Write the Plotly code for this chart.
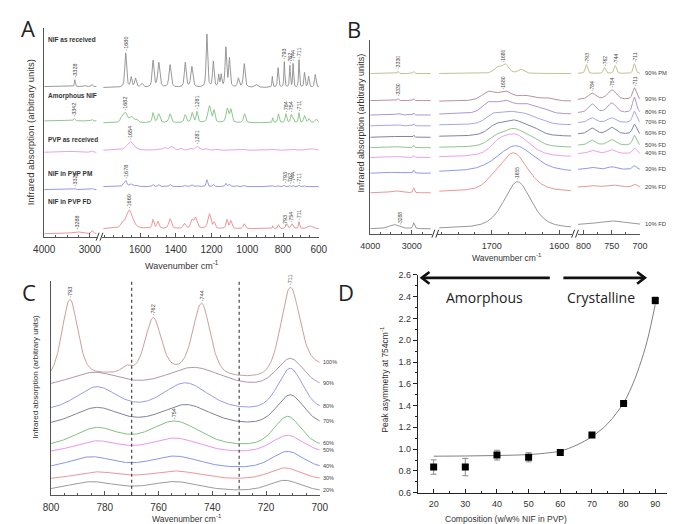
import numpy as np
import plotly.graph_objects as go

# ---------------- Panel A: FTIR spectra (peak centre, height, half-width) -------------
A_NAMES = ["NIF as received", "Amorphous NIF", "PVP as received", "NIF in PVP PM", "NIF in PVP FD"]
A_COLORS = ["#8c8c8c", "#7fbf7f", "#e597e5", "#8a8ae6", "#e88a8a"]
A_BASE_SEG1 = [153, 118, 86, 48, 3]
A_BASE_SEG2 = [152, 116, 88, 51, 8]
A_PEAKS_SEG1 = [
    [(3328, 7, 12), (3100, 1, 20), (2950, 2, 15)],
    [(3342, 2.5, 20), (2950, 1.5, 15)],
    [(3420, 1, 150), (2950, 1.5, 20)],
    [(3328, 1, 15), (2950, 1.5, 15)],
    [(3288, 2, 120), (2950, 3, 25)],
]
A_PEAKS_SEG2 = [
    [(1680, 35, 6), (1649, 10, 5), (1625, 9, 6), (1590, 4, 8), (1527, 27, 6), (1495, 25, 7), (1432, 23, 7),
     (1347, 25, 6), (1310, 21, 7), (1226, 54, 5), (1190, 26, 5), (1160, 12, 4), (1146, 12, 4), (1120, 40, 5),
     (1100, 29, 5), (1050, 9, 6), (1017, 24, 6), (950, 3, 10), (860, 11, 3), (828, 20, 4), (793, 26, 3),
     (762, 22, 3), (744, 24, 3), (711, 28, 3), (680, 15, 4), (657, 11, 4), (620, 13, 5)],
    [(1700, 6, 10), (1682, 9, 10), (1650, 6, 14), (1620, 3, 10), (1527, 10, 6), (1495, 9, 8), (1432, 9, 8),
     (1347, 8, 7), (1308, 10, 7), (1281, 11, 6), (1212, 17, 10), (1186, 12, 6), (1112, 14, 8), (1092, 13, 7),
     (1015, 9, 7), (858, 5, 3), (826, 9, 5), (784, 9, 5), (754, 8, 5), (744, 4, 4), (711, 10, 4), (680, 7, 6),
     (655, 4, 6), (615, 4, 8)],
    [(1654, 9, 22), (1495, 1.5, 10), (1462, 3, 10), (1424, 4, 12), (1373, 2, 8), (1318, 2, 8), (1281, 4, 12),
     (1230, 1.5, 10), (1170, 1, 10), (1018, 1, 10), (930, 0.8, 10), (845, 1, 10), (735, 0.8, 10), (650, 2, 25)],
    [(1690, 3, 8), (1678, 5, 6), (1650, 2.5, 10), (1620, 1.5, 8), (1527, 2, 5), (1495, 2, 6), (1432, 2.3, 7),
     (1347, 1.2, 5), (1310, 1.8, 6), (1281, 1.2, 8), (1226, 7, 5), (1190, 2.3, 5), (1120, 3.3, 5), (1100, 2.7, 5),
     (1060, 1, 6), (1017, 1.3, 5), (860, 0.8, 3), (828, 1, 4), (793, 1.5, 3), (762, 1, 3), (744, 1.3, 3),
     (711, 1.5, 3), (680, 0.8, 4), (640, 0.5, 5)],
    [(1660, 19, 22), (1700, 4, 10), (1527, 9, 6), (1500, 7, 7), (1432, 10, 9), (1352, 5, 8), (1310, 8, 8),
     (1290, 11, 10), (1212, 15, 10), (1185, 6, 6), (1114, 9, 6), (1092, 8, 7), (1017, 5, 7), (858, 3, 3),
     (826, 4, 5), (780, 5, 6), (750, 5, 7), (711, 7, 4), (650, 3, 15)],
]
A_LABELS = [
    [(1, 3328, "-3328"), (2, 1680, "-1680"), (2, 793, "-793"), (2, 762, "-762"), (2, 744, "-744"), (2, 711, "-711")],
    [(1, 3342, "-3342"), (2, 1682, "-1682"), (2, 1281, "-1281"), (2, 784, "-784"), (2, 754, "-754"), (2, 711, "-711")],
    [(2, 1654, "-1654"), (2, 1281, "-1281")],
    [(1, 3328, "-3328"), (2, 1678, "-1678"), (2, 793, "-793"), (2, 762, "-762"), (2, 744, "-744"), (2, 711, "-711")],
    [(1, 3288, "-3288"), (2, 1660, "-1660"), (2, 793, "-793"), (2, 754, "-754"), (2, 711, "-711")],
]
A_XTICKS_SEG1 = [4000, 3000]
A_XTICKS_SEG2 = [1600, 1400, 1200, 1000, 800, 600]

# ---------------- Panel B ----------------
B_NAMES = ["90% PM", "90% FD", "80% FD", "70% FD", "60% FD", "50% FD", "40% FD", "30% FD", "20% FD", "10% FD"]
B_COLORS = ["#baba85", "#b3838f", "#a58ac8", "#9c9ce6", "#75759e", "#85bd85", "#e597e5", "#7d8fe6", "#e88a8a", "#8c8c8c"]
B_BASE_SEG1 = [163.3, 135.7, 121, 110, 98.3, 87.7, 77.7, 61.7, 41.7, 5]
B_BASE_SEG2 = [163.3, 135, 121.7, 110.7, 99, 87.7, 78, 62.7, 42.3, 5]
B_BASE_SEG3 = [163.3, 136.5, 123, 113, 101.5, 90, 81.5, 65.5, 47.5, 9]
B_PEAKS_SEG1 = [
    [(3330, 2.3, 15), (2950, 2, 20)],
    [(3330, 2, 20), (2950, 2, 15)],
    [(3330, 1.5, 60), (2950, 2, 15)],
    [(3330, 1, 60), (2950, 2, 15)],
    [(3400, 0.8, 150), (2950, 2, 15)],
    [(3400, 1, 150), (2950, 2.5, 15)],
    [(3400, 1, 150), (2950, 2, 15)],
    [(3400, 1, 150), (2950, 3.3, 18)],
    [(3400, 2, 150), (2950, 5, 20)],
    [(3420, 4.3, 150), (2950, 6, 25)],
]
B_PEAKS_SEG2 = [
    [(1692, 6, 6), (1680, 9, 6), (1657, 4, 5)],
    [(1705, 9, 12), (1680, 9, 12), (1650, 5, 14), (1620, 3, 12)],
    [(1705, 10, 12), (1680, 12, 15), (1650, 9, 15), (1625, 4, 12)],
    [(1700, 8, 12), (1675, 12, 18), (1648, 8, 15), (1625, 3, 10)],
    [(1695, 8, 14), (1668, 15, 20), (1640, 6, 15)],
    [(1695, 6, 14), (1668, 18, 22), (1640, 5, 15)],
    [(1690, 8, 15), (1665, 22, 25)],
    [(1665, 27, 32)],
    [(1700, 4, 12), (1668, 40, 25)],
    [(1662, 48, 24)],
]
B_PEAKS_SEG3 = [
    [(795, 9, 2.5), (763, 6, 2.5), (744, 8, 2.5), (710, 10, 2.5)],
    [(785, 6.5, 8), (750, 10, 9), (710, 12, 4)],
    [(785, 9, 8), (750, 10, 9), (710, 16, 4)],
    [(785, 5, 8), (750, 5, 9), (710, 11.7, 4)],
    [(785, 6, 8), (750, 6.7, 9), (710, 10, 4)],
    [(785, 5, 8), (750, 5.7, 9), (710, 10, 4)],
    [(785, 3.3, 8), (750, 4, 9), (710, 6, 4)],
    [(785, 2, 8), (750, 2.7, 9), (710, 3.7, 4)],
    [(785, 1.5, 8), (750, 2.3, 12), (710, 3, 4)],
    [(750, 4, 30)],
]
B_LABELS = [
    [(1, 3330, "-3330"), (2, 1683, "-1680"), (3, 795, "-793"), (3, 763, "-762"), (3, 744, "-744"), (3, 710, "-711")],
    [(1, 3330, "-3330"), (2, 1684, "-1680"), (3, 785, "-784"), (3, 750, "-754"), (3, 710, "-711")],
    [], [], [], [], [], [], [],
    [(1, 3288, "-3288"), (2, 1662, "-1655")],
]

# ---------------- Panel C ----------------
C_NAMES = ["100%", "90%", "80%", "70%", "60%", "50%", "40%", "30%", "20%"]
C_COLORS = ["#c49494", "#a88aa0", "#8f8fe6", "#737390", "#75b875", "#e68ae6", "#7a8ae6", "#e88a8a", "#8f8f8f"]
C_BASE = [113, 109, 85, 70, 48, 42, 26, 15, 3]
C_PEAKS = [
    [(793, 80, 3.5), (772, 6, 2), (762, 55, 3.5), (744, 72, 3.8), (711, 88, 4.2), (700, 16, 12), (755, 10, 20), (785, 5, 15)],
    [(784, 15, 11), (747, 20, 12), (711, 29, 6)],
    [(783, 24, 9), (750, 28, 10), (711, 43, 5.5)],
    [(783, 18, 10), (750, 21, 11), (711, 31, 6)],
    [(783, 19, 10), (754, 26, 11), (712, 31, 6)],
    [(783, 12, 10), (754, 15, 11), (712, 18, 7)],
    [(785, 12, 10), (754, 12.7, 11), (712, 17.7, 7)],
    [(783, 7.7, 10), (754, 8.7, 11), (713, 12, 7)],
    [(785, 9.7, 11), (754, 9.7, 11), (713, 11.3, 7)],
]
C_LABELS = [
    [(793, "-793"), (762, "-762"), (744, "-744"), (711, "-711")],
    [], [], [], [(754, "-754")], [], [], [], [],
]
C_DASHED = [770, 730]
C_XTICKS = [800, 780, 760, 740, 720, 700]

# ---------------- Panel D ----------------
D_X = [20, 30, 40, 50, 60, 70, 80, 90]
D_Y = [0.835, 0.835, 0.945, 0.925, 0.970, 1.130, 1.420, 2.365]
D_ERR = [0.066, 0.080, 0.045, 0.042, 0.012, 0.010, 0.010, 0.032]
FIT_X = [20, 30, 40, 50, 55, 60, 65, 70, 75, 80, 82.5, 85, 87.5, 90]
FIT_Y = [0.935, 0.937, 0.941, 0.950, 0.962, 0.982, 1.035, 1.115, 1.235, 1.425, 1.57, 1.76, 2.00, 2.33]

W, H = 675, 524
def px(x):
    return x / W
def py(y):
    return 1 - y / H

def profile(x, peaks, eta):
    x = np.asarray(x, float)
    y = np.zeros_like(x)
    for c, h, w in peaks:
        u = ((x - c) / w) ** 2
        y += h * (eta / (1 + u) + (1 - eta) * np.exp(-np.log(2) * u))
    return y

FONT = "Liberation Sans, Arial, sans-serif"
AX = "#555555"
fig = go.Figure()
ann = []
shapes = []

def add_line(x, y, xa, ya, color, width=0.9):
    fig.add_trace(go.Scatter(x=x, y=y, xaxis=xa, yaxis=ya, mode="lines",
                             line=dict(color=color, width=width), showlegend=False, hoverinfo="skip"))

def peak_label(x, y, xa, ya, text, size=5.5):
    ann.append(dict(x=x, y=y, xref=xa, yref=ya, text=text, textangle=-90, showarrow=False,
                    xanchor="center", yanchor="bottom", font=dict(size=size, color="#444", family=FONT),
                    borderpad=0))

# ---- A ----
A1 = np.arange(4000, 2849, -2.0)
A2 = np.arange(1805, 599, -1.0)
EA = 0.6
for i in range(len(A_NAMES)):
    add_line(A1, A_BASE_SEG1[i] + profile(A1, A_PEAKS_SEG1[i], EA), "x", "y", A_COLORS[i])
    add_line(A2, A_BASE_SEG2[i] + profile(A2, A_PEAKS_SEG2[i], EA), "x2", "y", A_COLORS[i])
    for seg, wn, t in A_LABELS[i]:
        if seg == 1:
            yv = A_BASE_SEG1[i] + profile([wn], A_PEAKS_SEG1[i], EA)[0]
            peak_label(wn, yv + 1, "x", "y", t)
        else:
            yv = A_BASE_SEG2[i] + profile([wn], A_PEAKS_SEG2[i], EA)[0]
            peak_label(wn, yv + 1, "x2", "y", t)
A_LABEL_Y = [27, 85, 129, 164, 192]
for name, yy in zip(A_NAMES, A_LABEL_Y):
    ann.append(dict(x=px(28), y=py(yy), xref="paper", yref="paper", text="<b>%s</b>" % name, showarrow=False,
                    xanchor="left", yanchor="middle", font=dict(size=6.5, color="#333", family=FONT)))

# ---- B ----
B1 = np.arange(4000, 2539, -2.0)
B2 = np.arange(1778, 1582, -0.5)
B3 = np.arange(810, 699.9, -0.5)
EB = 0.5
for i in range(len(B_NAMES)):
    add_line(B1, B_BASE_SEG1[i] + profile(B1, B_PEAKS_SEG1[i], EB), "x3", "y2", B_COLORS[i])
    add_line(B2, B_BASE_SEG2[i] + profile(B2, B_PEAKS_SEG2[i], EB), "x4", "y2", B_COLORS[i])
    y3 = B_BASE_SEG3[i] + profile(B3, B_PEAKS_SEG3[i], EB)
    add_line(B3, y3, "x5", "y2", B_COLORS[i])
    ann.append(dict(x=700, y=y3[-1], xref="x5", yref="y2", text=B_NAMES[i], showarrow=False, xanchor="left",
                    yanchor="middle", xshift=3, font=dict(size=5.8, color="#444", family=FONT)))
    segs = {1: ("x3", B_BASE_SEG1, B_PEAKS_SEG1), 2: ("x4", B_BASE_SEG2, B_PEAKS_SEG2), 3: ("x5", B_BASE_SEG3, B_PEAKS_SEG3)}
    for seg, wn, t in B_LABELS[i]:
        xa, base, pk = segs[seg]
        yv = base[i] + profile([wn], pk[i], EB)[0]
        peak_label(wn, yv + 1, xa, "y2", t, size=5)

# ---- C ----
C1 = np.arange(800, 699.9, -0.25)
EC = 0.4
for i in range(len(C_NAMES)):
    yc = C_BASE[i] + profile(C1, C_PEAKS[i], EC)
    add_line(C1, yc, "x6", "y3", C_COLORS[i])
    ann.append(dict(x=700, y=yc[-1], xref="x6", yref="y3", text=C_NAMES[i], showarrow=False, xanchor="left",
                    yanchor="middle", xshift=1, font=dict(size=5.5, color="#444", family=FONT)))
    for wn, t in C_LABELS[i]:
        yv = C_BASE[i] + profile([wn], C_PEAKS[i], EC)[0]
        peak_label(wn, yv + 1, "x6", "y3", t, size=5.5)
for xv in C_DASHED:
    shapes.append(dict(type="line", xref="x6", yref="y3 domain", x0=xv, x1=xv, y0=0, y1=1,
                       line=dict(color="#444", width=1.2, dash="3px,3px")))

# ---- D ----
fig.add_trace(go.Scatter(x=FIT_X, y=FIT_Y, xaxis="x7", yaxis="y4", mode="lines", line=dict(color="#808080", width=1, shape="spline"),
                         showlegend=False, hoverinfo="skip"))
fig.add_trace(go.Scatter(x=D_X, y=D_Y, xaxis="x7", yaxis="y4", mode="markers",
                         marker=dict(symbol="square", size=7, color="black"),
                         error_y=dict(type="data", array=D_ERR, color="#8a8a8a", thickness=1, width=3),
                         showlegend=False))

# arrows (drawn as shapes) and words in D
def arrow(x_tail, x_head, yy):
    s = 1 if x_head > x_tail else -1
    shapes.append(dict(type="line", xref="paper", yref="paper", x0=px(x_tail), x1=px(x_head - s * 1), y0=py(yy), y1=py(yy),
                       line=dict(color="#111", width=2.6)))
    shapes.append(dict(type="path", xref="paper", yref="paper",
                       path="M %f,%f L %f,%f L %f,%f" % (px(x_head - s * 8), py(yy - 6), px(x_head), py(yy),
                                                       px(x_head - s * 8), py(yy + 6)),
                       line=dict(color="#111", width=2.6)))
arrow(547, 415, 270)
arrow(561, 645, 270)
ann.append(dict(x=px(480), y=py(290), xref="paper", yref="paper", text="Amorphous", showarrow=False,
                font=dict(size=14, color="#222", family="Open Sans"), xanchor="center", yanchor="middle"))
ann.append(dict(x=px(600), y=py(290), xref="paper", yref="paper", text="Crystalline", showarrow=False,
                font=dict(size=14, color="#222", family="Open Sans"), xanchor="center", yanchor="middle"))

# ---- axis titles ----
def text(xp, yp, t, size, angle=0, family=FONT, color="#333"):
    ann.append(dict(x=px(xp), y=py(yp), xref="paper", yref="paper", text=t, showarrow=False, textangle=angle,
                    xanchor="center", yanchor="middle", font=dict(size=size, color=color, family=family)))

text(168, 257, "Wavenumber cm<sup>-1</sup>", 9)
text(12, 122, "Infrared absorption (arbitrary units)", 9.5, -90)
text(503, 249, "Wavenumber cm<sup>-1</sup>", 8.5)
text(352, 112, "Infrared absorption (arbitrary units)", 9, -90)
text(173, 515, "Wavenumber cm<sup>-1</sup>", 8.5)
text(17, 370, "Infrared absorption (arbitrary units)", 8, -90)
text(502, 516, "Composition (w/w% NIF in PVP)", 8.5)
text(377, 373, "Peak asymmetry at 754cm<sup>-1</sup>", 8.5, -90)
for letter, xp, yp in [("A", 9, 15), ("B", 345, 16), ("C", 10, 284), ("D", 337, 284)]:
    text(xp, yp, letter, 22, family="Open Sans", color="#222")

# ---- break marks ----
def brk(x0, y0):
    for dx in (0, 4):
        shapes.append(dict(type="line", xref="paper", yref="paper", x0=px(x0 + dx - 1.5), x1=px(x0 + dx + 1.5),
                           y0=py(y0 + 4), y1=py(y0 - 4), line=dict(color="#333", width=1)))
brk(81, 228)
brk(427, 225)
brk(571, 225)

# ---- axes ----
def xax(domain, rng, tickvals, minor_dtick, anchor, size=10):
    return dict(domain=[px(domain[0]), px(domain[1])], range=rng, anchor=anchor, showline=True, linecolor=AX, linewidth=1,
                ticks="inside", ticklen=4, tickcolor=AX, tickwidth=1, tickmode="array", tickvals=tickvals,
                ticklabelstandoff=3,
                tickfont=dict(size=size, color="#333", family=FONT), showgrid=False, zeroline=False,
                minor=dict(dtick=minor_dtick, ticklen=2, ticks="inside", tickcolor=AX, showgrid=False))

def yax(domain, rng, anchor):
    return dict(domain=[py(domain[1]), py(domain[0])], range=rng, anchor=anchor, showline=True, linecolor=AX,
                linewidth=1, ticks="", showticklabels=False, showgrid=False, zeroline=False)

layout = dict(width=W, height=H, margin=dict(l=0, r=0, t=0, b=0), autosize=False,
              paper_bgcolor="white", plot_bgcolor="white", showlegend=False)
layout["xaxis"] = xax((26, 80), [4000, 2850], A_XTICKS_SEG1, 250, "y")
layout["xaxis2"] = xax((86, 309), [1810, 600], A_XTICKS_SEG2, 50, "y")
layout["yaxis"] = yax((15, 228), [0, 213], "x")
layout["xaxis3"] = xax((362, 426), [4000, 2500], [4000, 3000], 250, "y2", size=9)
layout["xaxis4"] = xax((431, 570), [1781, 1581], [1700, 1600], 25, "y2", size=9)
layout["xaxis5"] = xax((576, 640), [810, 700], [800, 750, 700], 25, "y2", size=9)
layout["yaxis2"] = yax((28, 225), [0, 197], "x3")
layout["xaxis6"] = xax((33, 310), [800, 700], C_XTICKS, 5, "y3")
layout["yaxis3"] = yax((273, 491), [0, 218], "x6")
layout["xaxis7"] = dict(domain=[px(411), px(672)], range=[15, 95], anchor="y4", showline=True, linecolor="#222",
                        ticks="inside", ticklen=4, tickcolor="#222", tickvals=[20, 30, 40, 50, 60, 70, 80, 90],
                        ticklabelstandoff=3,
                        tickfont=dict(size=9, color="#333", family=FONT), showgrid=False, zeroline=False,
                        minor=dict(dtick=5, ticklen=2, ticks="inside", tickcolor="#222"))
layout["yaxis4"] = dict(domain=[py(489), py(267)], range=[0.6, 2.6], anchor="x7", showline=True, linecolor="#222",
                        ticks="outside", ticklen=4, tickcolor="#222", dtick=0.2, tick0=0.6, tickformat=".1f",
                        tickfont=dict(size=9, color="#333", family=FONT), showgrid=False, zeroline=False,
                        minor=dict(dtick=0.1, ticklen=2, ticks="outside", tickcolor="#222"))
layout["annotations"] = ann
layout["shapes"] = shapes
fig.update_layout(**layout)
fig.write_html("out.html")
